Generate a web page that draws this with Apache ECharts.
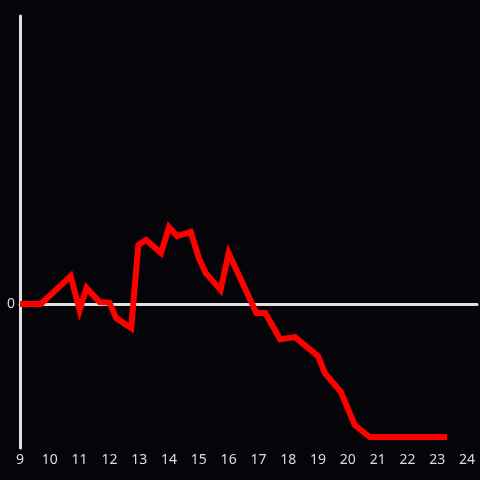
<!DOCTYPE html>
<html>
<head>
<meta charset="utf-8">
<script src="https://cdn.jsdelivr.net/npm/echarts@6/dist/echarts.min.js"></script>
<style>html,body{margin:0;padding:0;background:#050408;}#c{width:480px;height:480px;}</style>
</head>
<body>
<div id="c"></div>
<script>
var times = [9, 9.7, 10.7, 11.0, 11.23, 11.67, 12.0, 12.23, 12.73, 12.97, 13.23, 13.73, 14.0, 14.27, 14.73, 15.0, 15.23, 15.73, 16.0, 16.93, 17.23, 17.73, 18.23, 19.0, 19.23, 19.77, 20.23, 20.73, 23.33];
var values = [0, 0, 9.7, -2.1, 5.6, 0.7, 0.5, -4.9, -8.3, 20.5, 22.2, 17.7, 26.7, 23.6, 25, 16, 10.8, 4.9, 17.7, -3.1, -3.1, -12.2, -11.5, -18.1, -24, -30.6, -42, -46.2, -46.2];
var xTickLabels = ['9','10','11','12','13','14','15','16','17','18','19','20','21','22','23','24'];

var data = times.map(function (t, i) { return [t, values[i]]; });
var chart = echarts.init(document.getElementById('c'));
var axisColor = '#e0e0e0';
var font = 'Noto Sans';
chart.setOption({
  backgroundColor: '#050408',
  animation: false,
  grid: { left: 20, right: 0, top: 16, bottom: 32 },
  xAxis: [{
    type: 'value', min: 9, max: 24 + 1/3, interval: 1,
    axisLine: { show: true, onZero: true, lineStyle: { color: axisColor, width: 3 } },
    axisTick: { show: false }, axisLabel: { show: false }, splitLine: { show: false }
  }, {
    type: 'value', min: 9, max: 24 + 1/3, interval: 1, position: 'bottom',
    axisLine: { show: false, onZero: false }, axisTick: { show: false }, splitLine: { show: false },
    axisLabel: {
      color: '#dddddd', fontSize: 14, fontFamily: font, margin: 5,
      formatter: function (v) { var k = xTickLabels.indexOf(String(v)); return k >= 0 ? xTickLabels[k] : ''; }
    }
  }],
  yAxis: {
    type: 'value', min: -50, max: 100, interval: 50,
    axisLine: { show: true, lineStyle: { color: axisColor, width: 3 } },
    axisTick: { show: false }, splitLine: { show: false },
    axisLabel: { color: '#dddddd', fontSize: 14, fontFamily: font, margin: 5,
      formatter: function (v) { return v === 0 ? '0' : ''; } }
  },
  series: [{
    type: 'line', xAxisIndex: 0, data: data, showSymbol: false, symbol: 'none',
    lineStyle: { color: '#ff0000', width: 6, join: 'miter' }
  }]
});
</script>
</body>
</html>
